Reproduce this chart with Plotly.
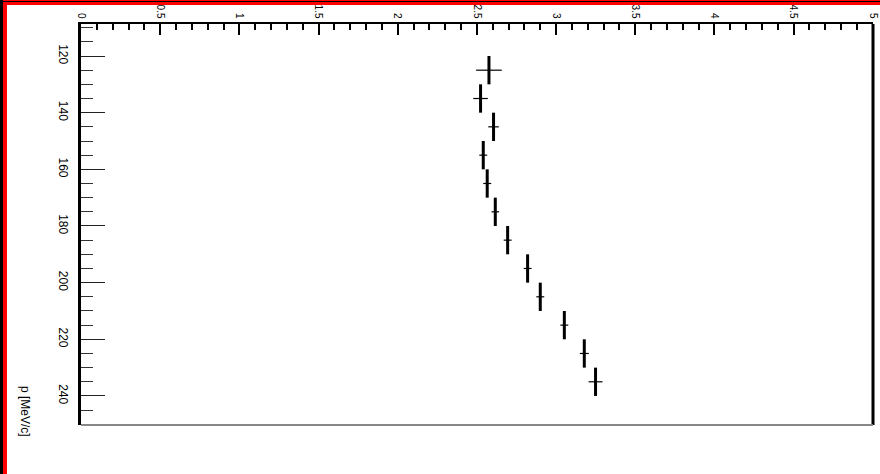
import plotly.graph_objects as go

# Momentum bins (bin centres, MeV/c) and their half-widths
p_centres = [125, 135, 145, 155, 165, 175, 185, 195, 205, 215, 225, 235]
p_half_width = [5, 5, 5, 5, 5, 5, 5, 5, 5, 5, 5, 5]

# Measured value per bin and its uncertainty
values = [2.576, 2.523, 2.605, 2.540, 2.565, 2.616, 2.694, 2.820, 2.900, 3.052, 3.178, 3.249]
value_err = [0.081, 0.046, 0.033, 0.025, 0.025, 0.024, 0.025, 0.025, 0.025, 0.025, 0.028, 0.044]

# Tick labels
value_ticks = [0, 0.5, 1, 1.5, 2, 2.5, 3, 3.5, 4, 4.5, 5]
value_tick_text = ["0", "0.5", "1", "1.5", "2", "2.5", "3", "3.5", "4", "4.5", "5"]
p_ticks = [120, 140, 160, 180, 200, 220, 240]
p_tick_text = ["120", "140", "160", "180", "200", "220", "240"]

W, H = 880, 474
ML, MR, MT, MB = 81, 7, 24, 49
PW, PH = W - ML - MR, H - MT - MB

FONT = "Liberation Sans Narrow, Liberation Sans, Arial, sans-serif"


def px_x(px):
    return (px - ML) / PW


def px_y(py):
    return (H - MB - py) / PH


fig = go.Figure()
fig.add_trace(go.Scatter(
    x=values, y=p_centres,
    mode="markers",
    marker=dict(size=2, color="black"),
    error_x=dict(type="data", array=value_err, visible=True,
                 color="black", thickness=1.2, width=0),
    error_y=dict(type="data", array=p_half_width, visible=True,
                 color="black", thickness=3, width=0),
    hoverinfo="x+y",
))

shapes = [
    # canvas border (left and top)
    dict(type="rect", xref="paper", yref="paper", x0=px_x(0), x1=px_x(3),
         y0=px_y(H), y1=px_y(0), fillcolor="black", line_width=0, layer="above"),
    dict(type="rect", xref="paper", yref="paper", x0=px_x(3), x1=px_x(7),
         y0=px_y(H), y1=px_y(0), fillcolor="#ff0000", line_width=0, layer="above"),
    dict(type="rect", xref="paper", yref="paper", x0=px_x(3), x1=px_x(W),
         y0=px_y(5), y1=px_y(0), fillcolor="#ff0000", line_width=0, layer="above"),
    dict(type="rect", xref="paper", yref="paper", x0=px_x(3), x1=px_x(W),
         y0=px_y(2), y1=px_y(1), fillcolor="black", line_width=0, layer="above"),
    # frame: right and bottom edges
    dict(type="line", xref="paper", yref="paper", x0=1, x1=1, y0=0, y1=1,
         line=dict(color="black", width=3), layer="above"),
    dict(type="line", xref="paper", yref="paper", x0=0, x1=1, y0=0, y1=0,
         line=dict(color="#888888", width=2), layer="above"),
]

fig.update_layout(
    width=W, height=H,
    margin=dict(l=ML, r=MR, t=MT, b=MB, autoexpand=False),
    paper_bgcolor="white", plot_bgcolor="white",
    showlegend=False,
    font=dict(family=FONT, color="black", size=12),
    shapes=shapes,
    xaxis=dict(
        side="top", range=[0, 5.001], automargin=False,
        tickmode="array", tickvals=value_ticks, ticktext=value_tick_text,
        tickangle=90, ticks="inside", ticklen=11, tickwidth=2, tickcolor="black",
        ticklabelstandoff=0,
        minor=dict(dtick=0.1, ticks="inside", ticklen=6, tickwidth=2,
                   tickcolor="black", showgrid=False),
        showline=True, linewidth=2, linecolor="black",
        showgrid=False, zeroline=False,
        tickfont=dict(family=FONT, size=10, color="black"),
    ),
    yaxis=dict(
        range=[250.25, 108.7], automargin=False,
        tickmode="array", tickvals=p_ticks, ticktext=p_tick_text,
        tickangle=90, ticks="inside", ticklen=24, tickwidth=1, tickcolor="#222222",
        ticklabelstandoff=5,
        minor=dict(dtick=5, ticks="inside", ticklen=12, tickwidth=1,
                   tickcolor="#333333", showgrid=False),
        showline=True, linewidth=3, linecolor="black",
        showgrid=False, zeroline=False,
        tickfont=dict(family=FONT, size=12, color="black"),
    ),
    annotations=[dict(
        text="p [MeV/c]", textangle=90, showarrow=False,
        xref="paper", yref="paper", x=px_x(25), y=px_y(411),
        xanchor="center", yanchor="middle",
        font=dict(family=FONT, size=12, color="black"),
    )],
)

fig.write_html("out.html")
